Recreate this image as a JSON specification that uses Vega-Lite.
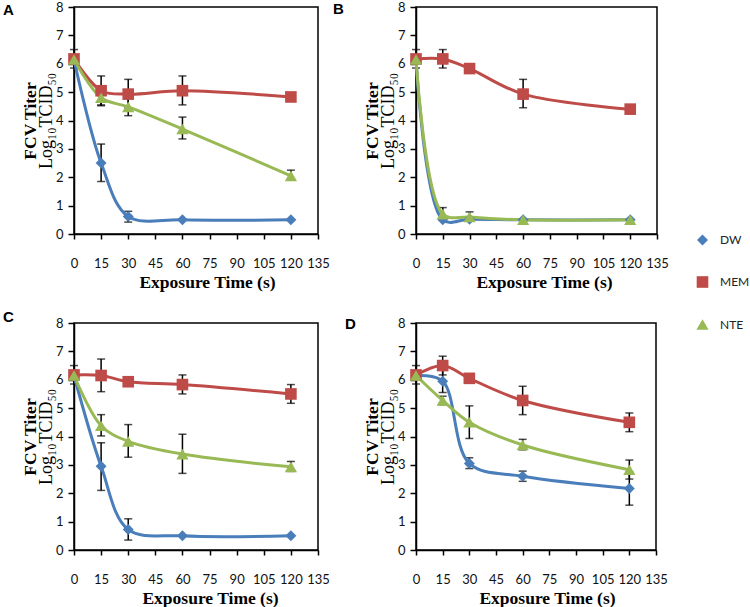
{
  "$schema": "https://vega.github.io/schema/vega-lite/v6.json",
  "padding": {"left": 2, "top": 0, "right": 75, "bottom": 0},
  "background": "white",
  "data": {"values": [
    {"panel":"A","series":"DW","t":0,"v":6.15,"lo":null,"hi":null},
    {"panel":"A","series":"DW","t":15,"v":2.5,"lo":1.85,"hi":3.17},
    {"panel":"A","series":"DW","t":30,"v":0.62,"lo":0.42,"hi":0.8},
    {"panel":"A","series":"DW","t":60,"v":0.5,"lo":null,"hi":null},
    {"panel":"A","series":"DW","t":120,"v":0.5,"lo":null,"hi":null},
    {"panel":"A","series":"MEM","t":0,"v":6.17,"lo":5.85,"hi":6.5},
    {"panel":"A","series":"MEM","t":15,"v":5.05,"lo":4.55,"hi":5.57},
    {"panel":"A","series":"MEM","t":30,"v":4.93,"lo":4.45,"hi":5.45},
    {"panel":"A","series":"MEM","t":60,"v":5.05,"lo":4.55,"hi":5.57},
    {"panel":"A","series":"MEM","t":120,"v":4.83,"lo":null,"hi":null},
    {"panel":"A","series":"NTE","t":0,"v":6.15,"lo":null,"hi":null},
    {"panel":"A","series":"NTE","t":15,"v":4.8,"lo":4.52,"hi":5.05},
    {"panel":"A","series":"NTE","t":30,"v":4.48,"lo":4.17,"hi":4.8},
    {"panel":"A","series":"NTE","t":60,"v":3.7,"lo":3.35,"hi":4.12},
    {"panel":"A","series":"NTE","t":120,"v":2.05,"lo":1.9,"hi":2.25},

    {"panel":"B","series":"DW","t":0,"v":6.15,"lo":null,"hi":null},
    {"panel":"B","series":"DW","t":15,"v":0.5,"lo":null,"hi":null},
    {"panel":"B","series":"DW","t":30,"v":0.52,"lo":null,"hi":null},
    {"panel":"B","series":"DW","t":60,"v":0.5,"lo":null,"hi":null},
    {"panel":"B","series":"DW","t":120,"v":0.5,"lo":null,"hi":null},
    {"panel":"B","series":"MEM","t":0,"v":6.17,"lo":5.85,"hi":6.5},
    {"panel":"B","series":"MEM","t":15,"v":6.17,"lo":5.85,"hi":6.5},
    {"panel":"B","series":"MEM","t":30,"v":5.83,"lo":5.68,"hi":5.98},
    {"panel":"B","series":"MEM","t":60,"v":4.93,"lo":4.45,"hi":5.45},
    {"panel":"B","series":"MEM","t":120,"v":4.4,"lo":4.28,"hi":4.52},
    {"panel":"B","series":"NTE","t":0,"v":6.15,"lo":null,"hi":null},
    {"panel":"B","series":"NTE","t":15,"v":0.7,"lo":0.5,"hi":0.93},
    {"panel":"B","series":"NTE","t":30,"v":0.6,"lo":0.45,"hi":0.78},
    {"panel":"B","series":"NTE","t":60,"v":0.5,"lo":null,"hi":null},
    {"panel":"B","series":"NTE","t":120,"v":0.5,"lo":null,"hi":null},

    {"panel":"C","series":"DW","t":0,"v":6.15,"lo":null,"hi":null},
    {"panel":"C","series":"DW","t":15,"v":2.95,"lo":2.1,"hi":3.78},
    {"panel":"C","series":"DW","t":30,"v":0.72,"lo":0.35,"hi":1.1},
    {"panel":"C","series":"DW","t":60,"v":0.5,"lo":null,"hi":null},
    {"panel":"C","series":"DW","t":120,"v":0.5,"lo":null,"hi":null},
    {"panel":"C","series":"MEM","t":0,"v":6.17,"lo":5.85,"hi":6.5},
    {"panel":"C","series":"MEM","t":15,"v":6.15,"lo":5.58,"hi":6.73},
    {"panel":"C","series":"MEM","t":30,"v":5.93,"lo":5.8,"hi":6.05},
    {"panel":"C","series":"MEM","t":60,"v":5.83,"lo":5.5,"hi":6.17},
    {"panel":"C","series":"MEM","t":120,"v":5.5,"lo":5.17,"hi":5.83},
    {"panel":"C","series":"NTE","t":0,"v":6.15,"lo":null,"hi":null},
    {"panel":"C","series":"NTE","t":15,"v":4.38,"lo":4.02,"hi":4.77},
    {"panel":"C","series":"NTE","t":30,"v":3.83,"lo":3.27,"hi":4.42},
    {"panel":"C","series":"NTE","t":60,"v":3.38,"lo":2.7,"hi":4.08},
    {"panel":"C","series":"NTE","t":120,"v":2.93,"lo":2.77,"hi":3.12},

    {"panel":"D","series":"DW","t":0,"v":6.15,"lo":null,"hi":null},
    {"panel":"D","series":"DW","t":15,"v":5.95,"lo":5.55,"hi":6.35},
    {"panel":"D","series":"DW","t":30,"v":3.05,"lo":2.87,"hi":3.25},
    {"panel":"D","series":"DW","t":60,"v":2.6,"lo":2.42,"hi":2.78},
    {"panel":"D","series":"DW","t":120,"v":2.17,"lo":1.58,"hi":2.75},
    {"panel":"D","series":"MEM","t":0,"v":6.17,"lo":5.85,"hi":6.5},
    {"panel":"D","series":"MEM","t":15,"v":6.5,"lo":6.17,"hi":6.83},
    {"panel":"D","series":"MEM","t":30,"v":6.05,"lo":5.9,"hi":6.2},
    {"panel":"D","series":"MEM","t":60,"v":5.27,"lo":4.77,"hi":5.77},
    {"panel":"D","series":"MEM","t":120,"v":4.5,"lo":4.17,"hi":4.83},
    {"panel":"D","series":"NTE","t":0,"v":6.15,"lo":null,"hi":null},
    {"panel":"D","series":"NTE","t":15,"v":5.27,"lo":5.12,"hi":5.42},
    {"panel":"D","series":"NTE","t":30,"v":4.5,"lo":3.93,"hi":5.08},
    {"panel":"D","series":"NTE","t":60,"v":3.7,"lo":3.53,"hi":3.9},
    {"panel":"D","series":"NTE","t":120,"v":2.83,"lo":2.5,"hi":3.17}
  ]},
  "columns": 2,
  "concat": [
    {
      "width": 244, "height": 227,
      "title": {"text": "A", "anchor": "start", "frame": "group", "dx": -71, "dy": 21},
      "transform": [{"filter": "datum.panel === 'A'"}],
      "encoding": {"x": {"field": "t", "type": "quantitative", "scale": {"domain": [0, 135]}, "axis": {"values": [0,15,30,45,60,75,90,105,120,135], "title": "Exposure Time (s)", "titleX": 133, "labelPadding": 18, "titlePadding": 3, "labelFlush": false, "labelOverlap": false, "titleFontWeight": "bold"}}},
      "layer": [
        {"mark": {"type": "errorbar", "ticks": {"size": 8}, "thickness": 1.5, "color": "black"},
         "encoding": {"y": {"field": "lo", "type": "quantitative", "scale": {"domain": [0, 8]}, "axis": null}, "y2": {"field": "hi"}}},
        {"mark": {"type": "line", "interpolate": "catmull-rom", "strokeWidth": 3},
         "encoding": {"y": {"field": "v", "type": "quantitative", "scale": {"domain": [0, 8]}, "axis": {"orient": "left", "values": [0,1,2,3,4,5,6,7,8], "tickSize": 6, "labelPadding": 5, "title": "Log₁₀TCID₅₀", "titleFontWeight": "normal", "titleFontSize": 18, "titlePadding": 0}},
                      "color": {"field": "series", "type": "nominal", "scale": {"domain": ["DW","MEM","NTE"], "range": ["#4A7EBB","#BE4B48","#98B954"]}}}},
        {"mark": {"type": "point", "filled": true, "opacity": 1},
         "encoding": {"y": {"field": "v", "type": "quantitative", "scale": {"domain": [0, 8]}, "axis": {"orient": "left", "labels": false, "ticks": false, "domain": false, "title": "FCV Titer", "titleFontWeight": "bold", "titlePadding": 35}},
                      "color": {"field": "series", "type": "nominal", "scale": {"domain": ["DW","MEM","NTE"], "range": ["#4A7EBB","#BE4B48","#98B954"]}},
                      "shape": {"field": "series", "type": "nominal", "scale": {"domain": ["DW","MEM","NTE"], "range": ["diamond","square","triangle-up"]}, "legend": null},
                      "size": {"field": "series", "type": "nominal", "scale": {"domain": ["DW","MEM","NTE"], "range": [120,150,150]}, "legend": null}}}
      ],
      "resolve": {"axis": {"y": "independent"}}
    },
    {
      "width": 241, "height": 227,
      "title": {"text": "B", "anchor": "start", "frame": "group", "dx": -83, "dy": 20},
      "transform": [{"filter": "datum.panel === 'B'"}],
      "encoding": {"x": {"field": "t", "type": "quantitative", "scale": {"domain": [0, 135]}, "axis": {"values": [0,15,30,45,60,75,90,105,120,135], "title": "Exposure Time (s)", "titleX": 128, "labelPadding": 18, "titlePadding": 3, "labelFlush": false, "labelOverlap": false, "titleFontWeight": "bold"}}},
      "layer": [
        {"mark": {"type": "errorbar", "ticks": {"size": 8}, "thickness": 1.5, "color": "black"},
         "encoding": {"y": {"field": "lo", "type": "quantitative", "scale": {"domain": [0, 8]}, "axis": null}, "y2": {"field": "hi"}}},
        {"mark": {"type": "line", "interpolate": "catmull-rom", "strokeWidth": 3},
         "encoding": {"y": {"field": "v", "type": "quantitative", "scale": {"domain": [0, 8]}, "axis": {"orient": "left", "values": [0,1,2,3,4,5,6,7,8], "tickSize": 6, "labelPadding": 5, "title": "Log₁₀TCID₅₀", "titleFontWeight": "normal", "titleFontSize": 18, "titlePadding": 0}},
                      "color": {"field": "series", "type": "nominal", "scale": {"domain": ["DW","MEM","NTE"], "range": ["#4A7EBB","#BE4B48","#98B954"]}}}},
        {"mark": {"type": "point", "filled": true, "opacity": 1},
         "encoding": {"y": {"field": "v", "type": "quantitative", "scale": {"domain": [0, 8]}, "axis": {"orient": "left", "labels": false, "ticks": false, "domain": false, "title": "FCV Titer", "titleFontWeight": "bold", "titlePadding": 35}},
                      "color": {"field": "series", "type": "nominal", "scale": {"domain": ["DW","MEM","NTE"], "range": ["#4A7EBB","#BE4B48","#98B954"]},
                                "legend": {"orient": "none", "legendX": 622, "legendY": 227, "title": null, "symbolSize": 100, "symbolStrokeWidth": 0, "labelFont": "Lato", "labelFontSize": 12, "labelColor": "#222", "rowPadding": 30, "labelOffset": 11}},
                      "shape": {"field": "series", "type": "nominal", "scale": {"domain": ["DW","MEM","NTE"], "range": ["diamond","square","triangle-up"]}, "legend": null},
                      "size": {"field": "series", "type": "nominal", "scale": {"domain": ["DW","MEM","NTE"], "range": [120,150,150]}, "legend": null}}}
      ],
      "resolve": {"axis": {"y": "independent"}}
    },
    {
      "width": 244, "height": 227,
      "title": {"text": "C", "anchor": "start", "frame": "group", "dx": -71, "dy": 12},
      "transform": [{"filter": "datum.panel === 'C'"}],
      "encoding": {"x": {"field": "t", "type": "quantitative", "scale": {"domain": [0, 135]}, "axis": {"values": [0,15,30,45,60,75,90,105,120,135], "title": "Exposure Time (s)", "titleX": 136, "labelPadding": 18, "titlePadding": 3, "labelFlush": false, "labelOverlap": false, "titleFontWeight": "bold"}}},
      "layer": [
        {"mark": {"type": "errorbar", "ticks": {"size": 8}, "thickness": 1.5, "color": "black"},
         "encoding": {"y": {"field": "lo", "type": "quantitative", "scale": {"domain": [0, 8]}, "axis": null}, "y2": {"field": "hi"}}},
        {"mark": {"type": "line", "interpolate": "catmull-rom", "strokeWidth": 3},
         "encoding": {"y": {"field": "v", "type": "quantitative", "scale": {"domain": [0, 8]}, "axis": {"orient": "left", "values": [0,1,2,3,4,5,6,7,8], "tickSize": 6, "labelPadding": 5, "title": "Log₁₀TCID₅₀", "titleFontWeight": "normal", "titleFontSize": 18, "titlePadding": 0}},
                      "color": {"field": "series", "type": "nominal", "scale": {"domain": ["DW","MEM","NTE"], "range": ["#4A7EBB","#BE4B48","#98B954"]}}}},
        {"mark": {"type": "point", "filled": true, "opacity": 1},
         "encoding": {"y": {"field": "v", "type": "quantitative", "scale": {"domain": [0, 8]}, "axis": {"orient": "left", "labels": false, "ticks": false, "domain": false, "title": "FCV Titer", "titleFontWeight": "bold", "titlePadding": 35}},
                      "color": {"field": "series", "type": "nominal", "scale": {"domain": ["DW","MEM","NTE"], "range": ["#4A7EBB","#BE4B48","#98B954"]}},
                      "shape": {"field": "series", "type": "nominal", "scale": {"domain": ["DW","MEM","NTE"], "range": ["diamond","square","triangle-up"]}, "legend": null},
                      "size": {"field": "series", "type": "nominal", "scale": {"domain": ["DW","MEM","NTE"], "range": [120,150,150]}, "legend": null}}}
      ],
      "resolve": {"axis": {"y": "independent"}}
    },
    {
      "width": 240, "height": 227,
      "title": {"text": "D", "anchor": "start", "frame": "group", "dx": -71, "dy": 19},
      "transform": [{"filter": "datum.panel === 'D'"}],
      "encoding": {"x": {"field": "t", "type": "quantitative", "scale": {"domain": [0, 135]}, "axis": {"values": [0,15,30,45,60,75,90,105,120,135], "title": "Exposure Time (s)", "titleX": 131, "labelPadding": 18, "titlePadding": 3, "labelFlush": false, "labelOverlap": false, "titleFontWeight": "bold"}}},
      "layer": [
        {"mark": {"type": "errorbar", "ticks": {"size": 8}, "thickness": 1.5, "color": "black"},
         "encoding": {"y": {"field": "lo", "type": "quantitative", "scale": {"domain": [0, 8]}, "axis": null}, "y2": {"field": "hi"}}},
        {"mark": {"type": "line", "interpolate": "catmull-rom", "strokeWidth": 3},
         "encoding": {"y": {"field": "v", "type": "quantitative", "scale": {"domain": [0, 8]}, "axis": {"orient": "left", "values": [0,1,2,3,4,5,6,7,8], "tickSize": 6, "labelPadding": 5, "title": "Log₁₀TCID₅₀", "titleFontWeight": "normal", "titleFontSize": 18, "titlePadding": 0}},
                      "color": {"field": "series", "type": "nominal", "scale": {"domain": ["DW","MEM","NTE"], "range": ["#4A7EBB","#BE4B48","#98B954"]}}}},
        {"mark": {"type": "point", "filled": true, "opacity": 1},
         "encoding": {"y": {"field": "v", "type": "quantitative", "scale": {"domain": [0, 8]}, "axis": {"orient": "left", "labels": false, "ticks": false, "domain": false, "title": "FCV Titer", "titleFontWeight": "bold", "titlePadding": 35}},
                      "color": {"field": "series", "type": "nominal", "scale": {"domain": ["DW","MEM","NTE"], "range": ["#4A7EBB","#BE4B48","#98B954"]}},
                      "shape": {"field": "series", "type": "nominal", "scale": {"domain": ["DW","MEM","NTE"], "range": ["diamond","square","triangle-up"]}, "legend": null},
                      "size": {"field": "series", "type": "nominal", "scale": {"domain": ["DW","MEM","NTE"], "range": [120,150,150]}, "legend": null}}}
      ],
      "resolve": {"axis": {"y": "independent"}}
    }
  ],
  "spacing": {"row": 89, "column": 98},
  "bounds": "flush",
  "config": {
    "view": {"stroke": "black", "strokeWidth": 1.5},
    "axis": {"domainColor": "black", "domainWidth": 1.5, "tickColor": "black", "tickWidth": 1.5, "tickSize": 5, "grid": false, "labelFont": "Lato", "labelFontSize": 13, "labelColor": "#111", "titleFont": "Liberation Serif", "titleFontSize": 17.5, "titleColor": "black"},
    "title": {"font": "Liberation Sans", "fontSize": 15, "fontWeight": "bold", "color": "black"}
  }
}
